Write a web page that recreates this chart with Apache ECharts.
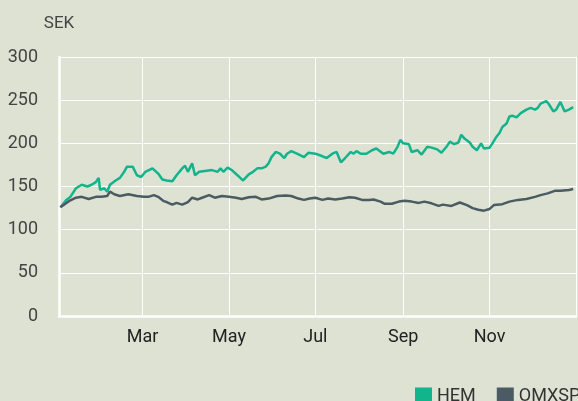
<!DOCTYPE html>
<html>
<head>
<meta charset="utf-8">
<title>HEM vs OMXSPI</title>
<script src="https://cdn.jsdelivr.net/npm/echarts@6/dist/echarts.min.js"></script>
<style>
  html, body { margin: 0; padding: 0; background: #dde2d3; }
  #main { width: 578px; height: 401px; }
</style>
</head>
<body>
<div id="main"></div>
<script>
let year = 2019;
let monthNames = ['Jan', 'Feb', 'Mar', 'Apr', 'May', 'Jun', 'Jul', 'Aug', 'Sep', 'Oct', 'Nov', 'Dec'];
let yTicks = [0, 50, 100, 150, 200, 250, 300];

// HEM
let hemDates = [
  '01-02','01-06','01-09','01-13','01-17','01-21','01-24','01-27','01-29','01-30',
  '02-02','02-04','02-06','02-10','02-13','02-16','02-18','02-22','02-25','02-28',
  '03-03','03-08','03-12','03-15','03-18','03-22','03-25','03-29','03-31',
  '04-02','04-05','04-07','04-10','04-14','04-19','04-23','04-25','04-27','04-30',
  '05-03','05-07','05-09','05-11','05-15','05-18','05-21','05-24','05-27','05-29','05-31',
  '06-03','06-06','06-09','06-11','06-14','06-18','06-23','06-26',
  '07-01','07-06','07-09','07-13','07-16','07-19','07-22','07-26','07-28','07-30',
  '08-02','08-06','08-10','08-13','08-18','08-22','08-25','08-28','08-30',
  '09-01','09-05','09-07','09-11','09-14','09-18','09-21','09-25','09-28',
  '10-02','10-04','10-07','10-10','10-12','10-14','10-18','10-20','10-23','10-26','10-28',
  '11-01','11-03','11-06','11-08','11-10','11-13','11-15','11-17','11-20','11-23','11-27','11-30',
  '12-03','12-05','12-07','12-11','12-13','12-16','12-18','12-21','12-24','12-27','12-30'
];
let hemValues = [
  126, 134, 138, 148, 152, 150, 152, 155, 160, 146,
  148, 144, 152, 157, 160, 167, 173, 173, 163, 161,
  167, 171, 165, 158, 157, 156, 163, 171, 174,
  167, 177, 163, 167, 168, 169, 167, 171, 167, 172,
  169, 163, 160, 157, 164, 167, 171, 171, 173, 177, 184,
  190, 188, 183, 188, 191, 188, 184, 189,
  188, 185, 183, 188, 190, 178, 183, 190, 188, 191,
  188, 188, 192, 194, 188, 190, 188, 196, 204,
  200, 199, 190, 192, 187, 196, 195, 193, 189,
  197, 202, 199, 201, 210, 206, 201, 196, 192, 200, 194,
  195, 200, 208, 212, 219, 223, 231, 232, 230, 235, 239, 241,
  239, 241, 246, 249, 245, 237, 239, 248, 237, 239, 242
];

// OMXSPI
let omxDates = [
  '01-02','01-03','01-08','01-13','01-17','01-22','01-27','01-31',
  '02-04','02-06','02-09','02-13','02-19','02-25',
  '03-02','03-05','03-09','03-12','03-16','03-18','03-22','03-25','03-29',
  '04-02','04-05','04-09','04-12','04-17','04-21','04-26',
  '05-01','05-06','05-10','05-15','05-20','05-24','05-29',
  '06-04','06-10','06-14','06-19','06-23','06-27',
  '07-01','07-06','07-10','07-15','07-20','07-25','07-29',
  '08-03','08-08','08-11','08-16','08-19','08-24','08-29',
  '09-02','09-07','09-12','09-16','09-21','09-26','09-29',
  '10-05','10-11','10-16','10-20','10-24','10-28',
  '11-01','11-04','11-10','11-15','11-21','11-27',
  '12-03','12-07','12-12','12-17','12-21','12-27','12-30'
];
let omxValues = [
  126, 127, 133, 137, 138, 135.5, 138, 138,
  139, 144, 141, 139, 141, 139,
  138, 138, 140, 138, 133, 132, 129, 131, 129,
  132, 137, 135, 137, 140, 137, 139,
  138, 137, 135.5, 137.5, 138, 135, 136,
  139, 139.5, 139, 136, 134.5, 136,
  137, 134.5, 136, 135, 136, 137.5, 137,
  134.5, 134.5, 135, 132.5, 130, 130, 132.5,
  133.5, 132.5, 131, 132.5, 130.5, 127.5, 129,
  127.5, 131.5, 128.5, 125, 123, 122,
  124, 128.5, 129.5, 132.5, 134.5, 135.5,
  138, 140, 142, 145, 145, 146, 147
];

// 日期类目：全年每天，到下一年1月1日
function fmt(d) {
  return d.toISOString().slice(0, 10);
}
let categories = [];
let day = new Date(Date.UTC(year, 0, 1));
let end = new Date(Date.UTC(year + 1, 0, 1));
while (day <= end) {
  categories.push(fmt(day));
  day = new Date(day.getTime() + 86400000);
}

function isOddMonthStart(value) {
  let m = parseInt(value.slice(5, 7), 10);
  return value.slice(8, 10) === '01' && m % 2 === 1;
}

let hemData = hemDates.map((d, i) => [year + '-' + d, hemValues[i]]);
let omxData = omxDates.map((d, i) => [year + '-' + d, omxValues[i]]);

let myChart = echarts.init(document.getElementById('main'));

let option = {
  backgroundColor: '#dde2d3',
  animation: false,
  textStyle: { fontFamily: 'Roboto' },
  grid: {
    left: 59,
    right: 2,
    top: 57,
    bottom: 85
  },
  legend: {
    left: 410,
    top: 382,
    width: 400,
    icon: 'rect',
    itemWidth: 17,
    itemHeight: 17,
    itemGap: 21,
    textStyle: { fontSize: 18, color: '#333' },
    data: ['HEM', 'OMXSPI']
  },
  xAxis: {
    type: 'category',
    boundaryGap: false,
    data: categories,
    axisLine: { lineStyle: { color: '#ffffff', width: 2.5 } },
    axisTick: { show: false },
    axisLabel: {
      interval: (idx, value) => isOddMonthStart(value) && value.slice(5, 7) !== '01',
      formatter: value => monthNames[parseInt(value.slice(5, 7), 10) - 1],
      fontSize: 18,
      color: '#222',
      margin: 12
    },
    splitLine: {
      show: true,
      interval: (idx, value) => isOddMonthStart(value),
      lineStyle: { color: '#ffffff', width: 1 }
    }
  },
  yAxis: {
    type: 'value',
    min: yTicks[0],
    max: yTicks[yTicks.length - 1],
    interval: 50,
    name: 'SEK',
    nameGap: 25,
    nameTextStyle: { fontSize: 17, color: '#444' },
    axisLine: { show: true, lineStyle: { color: '#ffffff', width: 2.5 } },
    axisTick: { show: false },
    axisLabel: { fontSize: 18, color: '#444', margin: 21 },
    splitLine: { lineStyle: { color: '#ffffff', width: 1 } }
  },
  series: [{
    name: 'HEM',
    type: 'line',
    data: hemData,
    showSymbol: false,
    color: '#12b48c',
    lineStyle: { width: 2.5 }
  }, {
    name: 'OMXSPI',
    type: 'line',
    data: omxData,
    showSymbol: false,
    color: '#4a5b63',
    lineStyle: { width: 2.5 }
  }]
};

myChart.setOption(option);
</script>
</body>
</html>
